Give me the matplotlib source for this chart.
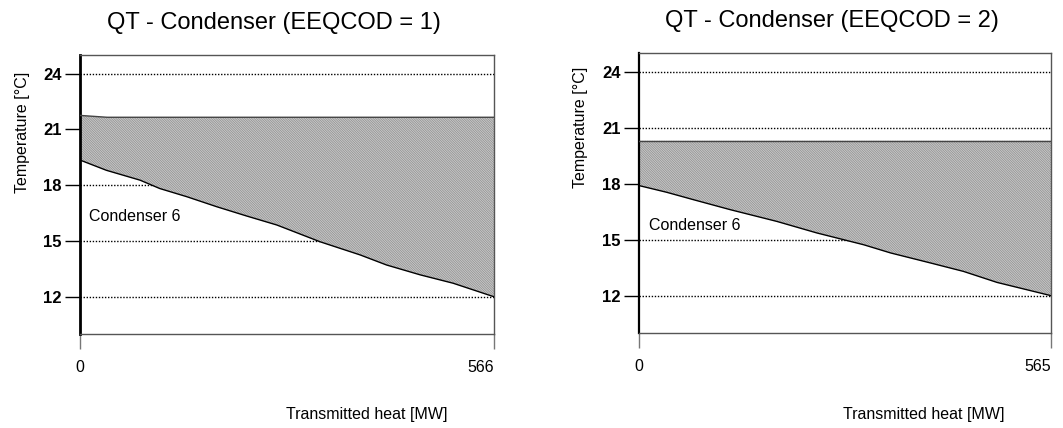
import matplotlib
matplotlib.use("Agg")
import matplotlib.pyplot as plt

plt.rcParams['font.family'] = ['Liberation Sans', 'DejaVu Sans']
plt.rcParams['hatch.linewidth'] = 0.5

# panel 1 (EEQCOD = 1)
q_max_1 = 566
upper_q_1 = [0, 37, 566]
upper_t_1 = [21.75, 21.65, 21.65]
lower_q_1 = [0, 36, 82, 109, 146, 187, 228, 269, 328, 383, 419, 465, 510, 566]
lower_t_1 = [19.35, 18.8, 18.27, 17.82, 17.38, 16.84, 16.34, 15.86, 14.96, 14.25, 13.71, 13.18, 12.73, 12.0]

# panel 2 (EEQCOD = 2)
q_max_2 = 565
upper_q_2 = [0, 565]
upper_t_2 = [20.3, 20.3]
lower_q_2 = [0, 38, 75, 125, 189, 244, 308, 345, 400, 445, 491, 565]
lower_t_2 = [17.9, 17.54, 17.14, 16.61, 15.98, 15.36, 14.73, 14.29, 13.75, 13.3, 12.71, 12.0]

y_ticks = [12, 15, 18, 21, 24]
titles = ["QT - Condenser (EEQCOD = 1)", "QT - Condenser (EEQCOD = 2)"]
label_pos = [(12, 16.3), (14, 15.75)]

fig = plt.figure(figsize=(10.63, 4.28), dpi=100)
ax1 = fig.add_axes([0.0753, 0.2196, 0.3895, 0.652])
ax2 = fig.add_axes([0.6011, 0.2220, 0.3876, 0.654])

panels = [
    (ax1, q_max_1, upper_q_1, upper_t_1, lower_q_1, lower_t_1, 2.0),
    (ax2, q_max_2, upper_q_2, upper_t_2, lower_q_2, lower_t_2, 1.6),
]

for i, (ax, qmax, uq, ut, lq, lt, lw_left) in enumerate(panels):
    # grid first, so the shaded area hides it
    for t in y_ticks:
        ax.axhline(t, color='black', linestyle=(0, (1, 1.2)), linewidth=1.0, zorder=1)

    poly_x = list(uq) + list(lq[::-1])
    poly_y = list(ut) + list(lt[::-1])
    ax.fill(poly_x, poly_y, facecolor='#c8c8c8', edgecolor='#8e8e8e',
            hatch='\\' * 14, linewidth=0, zorder=2)
    ax.plot(uq, ut, color='#444444', linewidth=1.0, zorder=3)
    ax.plot(lq, lt, color='black', linewidth=1.0, zorder=3)

    ax.text(label_pos[i][0], label_pos[i][1], "Condenser 6", fontsize=11.5,
            va='center', ha='left', zorder=4)

    ax.set_xlim(0, qmax)
    ax.set_ylim(10, 25)
    ax.set_yticks(y_ticks)
    ax.set_yticklabels([str(t) for t in y_ticks], fontweight='bold', fontsize=12)
    ax.set_xticks([0, qmax])
    xl = ax.set_xticklabels(["0", str(qmax)], fontsize=11.5)
    xl[1].set_horizontalalignment('right')

    ax.tick_params(axis='y', length=11, width=1.0, color='black', pad=2)
    ax.tick_params(axis='x', length=10.5, width=1.0, color='#777777', pad=8)

    ax.spines['left'].set_linewidth(lw_left)
    ax.spines['left'].set_color('black')
    for s in ['top', 'right', 'bottom']:
        ax.spines[s].set_linewidth(1.0)
        ax.spines[s].set_color('#555555')

    ax.set_title(titles[i], fontsize=17, pad=19, x=0.468)

fig.text(22 / 1063, 1 - 132 / 428, "Temperature [°C]", rotation=90, fontsize=11.5,
         ha='center', va='center')
fig.text(580 / 1063, 1 - 127 / 428, "Temperature [°C]", rotation=90, fontsize=11.5,
         ha='center', va='center')
fig.text(367 / 1063, 1 - 415 / 428, "Transmitted heat [MW]", fontsize=11.5,
         ha='center', va='center')
fig.text(924 / 1063, 1 - 415 / 428, "Transmitted heat [MW]", fontsize=11.5,
         ha='center', va='center')

fig.savefig("out.png", dpi=100)
